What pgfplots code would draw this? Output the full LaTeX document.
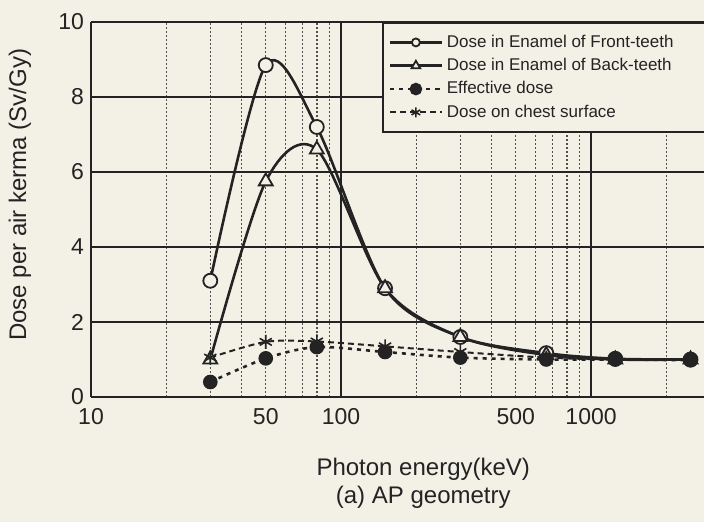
\documentclass[border=0pt]{standalone}
\usepackage{fontspec}
\setmainfont{Liberation Sans}
\usepackage{pgfplots}
\pgfplotsset{compat=1.18}
\definecolor{paper}{RGB}{243,240,230}
\definecolor{ink}{RGB}{35,35,35}
\begin{document}
\begin{tikzpicture}
\useasboundingbox (0,0) rectangle (352pt,261pt);
\fill[paper] (0,0) rectangle (352pt,261pt);
\begin{axis}[
  at={(45.5pt,62.5pt)}, anchor=south west,
  scale only axis, width=306.5pt, height=187.5pt,
  xmode=log, log basis x=10,
  xmin=10, xmax=2830, ymin=0, ymax=10,
  axis x line*=box, axis y line*=left,
  axis line style={ink, line width=1pt},
  xtick={10,100,1000}, xticklabels={10,100,1000},
  minor xtick={20,30,40,50,60,70,80,90,200,300,400,500,600,700,800,900,2000},
  extra x ticks={50,500}, extra x tick labels={50,500},
  extra x tick style={grid=none},
  ytick={0,2,4,6,8,10}, yticklabels={0,2,4,6,8,10},
  xmajorgrids, xminorgrids, ymajorgrids,
  major grid style={ink, line width=1pt},
  minor grid style={ink!80, line width=0.7pt, dash pattern=on 1pt off 1pt},
  major tick length=0pt, minor tick length=0pt,
  /pgf/number format/assume math mode=true,
  tick label style={font=\fontsize{11.5}{13}\selectfont, text=ink},
  xticklabel style={yshift=-2pt},
  xlabel={Photon energy(keV)\\(a) AP geometry},
  ylabel={Dose per air kerma (Sv/Gy)},
  every axis x label/.style={at={(axis description cs:0.542,0)}, anchor=north, yshift=-27pt, align=center, font=\fontsize{12}{14}\selectfont, text=ink},
  every axis y label/.style={at={(axis description cs:-0.116,0.539)}, rotate=90, anchor=center, font=\fontsize{12}{14}\selectfont, text=ink},
  legend style={at={(rel axis cs:0.475,1)}, anchor=north west, draw=ink, line width=0.8pt, fill=paper,
    font=\fontsize{8.5}{10}\selectfont, text=ink, cells={anchor=west}, inner xsep=3pt, inner ysep=4pt, row sep=0pt},
  legend image code/.code={\draw[mark repeat=2,mark phase=2,#1] plot coordinates {(0cm,0cm) (0.45cm,0cm) (0.9cm,0cm)};},
]
\addplot[ink, line width=1.3pt, smooth, mark=*, mark size=3.5pt, mark options={solid, fill=paper, line width=0.9pt}, legend image post style={mark size=2pt}]
  coordinates {(30,3.1)(50,8.85)(80,7.2)(150,2.9)(300,1.6)(662,1.17)(1250,1.02)(2500,1.0)};
\addlegendentry{Dose in Enamel of Front-teeth\rule{45pt}{0pt}}
\addplot[ink, line width=1.3pt, smooth, mark=triangle*, mark size=4pt, mark options={solid, fill=paper, line width=0.9pt}, legend image post style={mark size=2.5pt}]
  coordinates {(30,1.0)(50,5.75)(80,6.6)(150,2.9)(300,1.6)(662,1.12)(1250,1.0)(2500,1.0)};
\addlegendentry{Dose in Enamel of Back-teeth}
\addplot[ink, line width=1.3pt, smooth, dash pattern=on 2pt off 2.5pt, mark=*, mark size=3pt, mark options={solid, fill=ink}, legend image post style={mark size=2.5pt}]
  coordinates {(30,0.4)(50,1.03)(80,1.33)(150,1.2)(300,1.05)(662,1.0)(1250,1.0)(2500,0.98)};
\addlegendentry{Effective dose}
\addplot[ink, line width=1pt, smooth, dash pattern=on 3pt off 2pt, mark=asterisk, mark size=3.5pt, mark options={solid, line width=0.8pt}, legend image post style={mark size=2.5pt}]
  coordinates {(30,1.05)(50,1.47)(80,1.48)(150,1.35)(300,1.2)(662,1.05)(1250,1.0)(2500,1.0)};
\addlegendentry{Dose on chest surface}
\end{axis}
\end{tikzpicture}
\end{document}
